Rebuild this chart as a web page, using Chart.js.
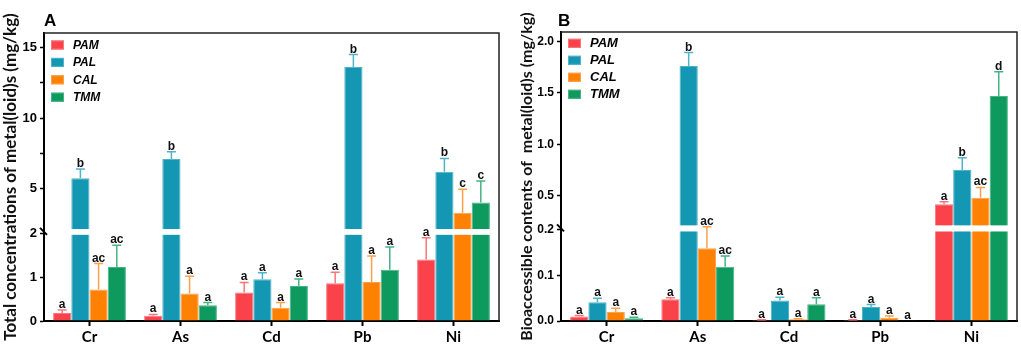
<!DOCTYPE html>
<html>
<head>
<meta charset="utf-8">
<script src="https://cdn.jsdelivr.net/npm/chart.js@4.4.1/dist/chart.umd.min.js"></script>
<style>
  body { margin: 0; background: #fff; }
  #wrap { position: relative; width: 1021px; height: 349px; }
  canvas { position: absolute; top: 0; }
</style>
</head>
<body>
<div id="wrap">
  <canvas id="chartA" width="510" height="349" style="left:0"></canvas>
  <canvas id="chartB" width="511" height="349" style="left:510px"></canvas>
</div>
<script>
// categories and groups
const metals = ['Cr', 'As', 'Cd', 'Pb', 'Ni'];
const groups = ['PAM', 'PAL', 'CAL', 'TMM'];

// A: total concentrations (mg/kg)
const totalPAM = [0.18, 0.12, 0.65, 0.86, 1.40];
const totalPAL = [5.71, 7.08, 0.95, 13.64, 6.18];
const totalCAL = [0.72, 0.63, 0.30, 0.89, 3.27];
const totalTMM = [1.23, 0.36, 0.80, 1.17, 4.00];
const totalErrPAM = [0.07, 0.03, 0.23, 0.25, 0.50];
const totalErrPAL = [0.66, 0.52, 0.15, 0.88, 0.95];
const totalErrCAL = [0.59, 0.39, 0.12, 0.59, 1.66];
const totalErrTMM = [0.50, 0.06, 0.16, 0.52, 1.52];
const totalSigPAM = ['a', 'a', 'a', 'a', 'a'];
const totalSigPAL = ['b', 'b', 'a', 'b', 'b'];
const totalSigCAL = ['ac', 'a', 'a', 'a', 'c'];
const totalSigTMM = ['ac', 'a', 'a', 'a', 'c'];
const totalTicks = [0, 1, 2, 5, 7.5, 10, 12.5, 15];
const totalTickLabels = ['0', '1', '2', '5', '', '10', '', '15'];

// B: bioaccessible contents (mg/kg)
const bioPAM = [0.010, 0.048, 0.002, 0.002, 0.419];
const bioPAL = [0.041, 1.762, 0.045, 0.031, 0.752];
const bioCAL = [0.020, 0.160, 0.004, 0.007, 0.483];
const bioTMM = [0.006, 0.119, 0.037, 0.0005, 1.471];
const bioErrPAM = [0.002, 0.003, 0.001, 0.001, 0.026];
const bioErrPAL = [0.009, 0.130, 0.007, 0.005, 0.120];
const bioErrCAL = [0.008, 0.042, 0.001, 0.004, 0.100];
const bioErrTMM = [0.002, 0.024, 0.014, 0.000, 0.236];
const bioSigPAM = ['a', 'a', 'a', 'a', 'a'];
const bioSigPAL = ['a', 'b', 'a', 'a', 'b'];
const bioSigCAL = ['a', 'ac', 'a', 'a', 'ac'];
const bioSigTMM = ['a', 'ac', 'a', 'a', 'd'];
const bioTicks = [0, 0.1, 0.2, 0.5, 1.0, 1.5, 2.0];
const bioTickLabels = ['0.0', '0.1', '0.2', '0.5', '1.0', '1.5', '2.0'];

const fills = ['#F9424A', '#1497B2', '#FF8104', '#0E9A5F'];
const edges = ['#FB767C', '#4FB4C9', '#FFA04A', '#46B383'];

// linear scale with a break: [min, at] on the lower part, [at, max] above
class BrokenScale extends Chart.LinearScale {
  segs() {
    const b = this.options.brk;
    const lb = this.bottom - (this.bottom - this.top) * b.lowFrac;
    return { lb: lb, ub: lb - b.gap, at: b.at };
  }
  getPixelForValue(v) {
    const s = this.segs();
    if (v <= s.at) return this.bottom - (v - this.min) / (s.at - this.min) * (this.bottom - s.lb);
    return s.ub - (v - s.at) / (this.max - s.at) * (s.ub - this.top);
  }
  getValueForPixel(p) {
    const s = this.segs();
    if (p >= s.lb) return this.min + (this.bottom - p) / (this.bottom - s.lb) * (s.at - this.min);
    return s.at + (s.ub - p) / (s.ub - this.top) * (this.max - s.at);
  }
}
BrokenScale.id = 'broken';
BrokenScale.defaults = Chart.LinearScale.defaults;
Chart.register(BrokenScale);

const errorBars = {
  id: 'errorBars',
  afterDatasetsDraw(chart) {
    const ctx = chart.ctx;
    const y = chart.scales.y;
    const s = y.segs();
    ctx.save();
    chart.data.datasets.forEach((ds, i) => {
      chart.getDatasetMeta(i).data.forEach((bar, j) => {
        const v = ds.data[j];
        if (v > s.at) {
          ctx.fillStyle = '#fff';
          ctx.fillRect(bar.x - bar.width / 2 - 1, s.ub - 1.5, bar.width + 2, s.lb - s.ub + 3);
        }
        const y0 = y.getPixelForValue(v);
        const y1 = y.getPixelForValue(v + ds.errors[j]);
        ctx.strokeStyle = ds.borderColor;
        ctx.lineWidth = 1.5;
        if (ds.errors[j] > 0) {
          ctx.beginPath();
          ctx.moveTo(bar.x, y0);
          ctx.lineTo(bar.x, y1);
          ctx.moveTo(bar.x - 4.5, y1);
          ctx.lineTo(bar.x + 4.5, y1);
          ctx.stroke();
        }
        ctx.fillStyle = '#111';
        ctx.font = 'bold 12px "Liberation Sans", Arial, sans-serif';
        ctx.textAlign = 'center';
        ctx.textBaseline = 'alphabetic';
        ctx.fillText(ds.sig[j], bar.x, Math.min(y0, y1) - 2);
      });
    });
    ctx.restore();
  }
};

const decor = {
  id: 'decor',
  afterDraw(chart, args, o) {
    const ctx = chart.ctx;
    const a = chart.chartArea;
    const s = chart.scales.y.segs();
    ctx.save();
    ctx.strokeStyle = '#222';
    ctx.lineWidth = 1.5;
    ctx.beginPath();
    ctx.moveTo(a.left, a.top);
    ctx.lineTo(a.right, a.top);
    ctx.lineTo(a.right, a.bottom);
    ctx.stroke();

    // axis break mark
    const my = (s.lb + s.ub) / 2;
    ctx.strokeStyle = '#000';
    ctx.lineWidth = 2;
    ctx.beginPath();
    ctx.moveTo(a.left - 4, my - 4);
    ctx.lineTo(a.left + 3, my + 3);
    ctx.stroke();

    ctx.fillStyle = '#000';
    ctx.font = 'bold 17px "Liberation Sans", Arial, sans-serif';
    ctx.textAlign = 'left';
    ctx.textBaseline = 'alphabetic';
    ctx.fillText(o.letter, o.letterX, 26);

    // legend inside the plot
    ctx.font = 'bold italic ' + o.legendSize + 'px "Liberation Sans", Arial, sans-serif';
    ctx.textBaseline = 'middle';
    chart.data.datasets.forEach((ds, i) => {
      const yy = a.top + o.legendTop + i * o.legendStep;
      ctx.fillStyle = ds.backgroundColor;
      ctx.fillRect(a.left + 7, yy - 4.5, 13, 9);
      ctx.strokeStyle = ds.borderColor;
      ctx.lineWidth = 1;
      ctx.strokeRect(a.left + 7.5, yy - 4, 12, 8);
      ctx.fillStyle = '#000';
      ctx.fillText(ds.label, a.left + 29, yy + 0.5);
    });
    ctx.restore();
  }
};

function makePanel(id, p) {
  const datasets = groups.map((g, i) => ({
    label: g,
    data: p.values[i],
    errors: p.errors[i],
    sig: p.sigs[i],
    backgroundColor: fills[i],
    borderColor: edges[i],
    borderWidth: 1,
    categoryPercentage: 0.8,
    barPercentage: 1.0
  }));
  return new Chart(document.getElementById(id), {
    type: 'bar',
    data: { labels: metals, datasets: datasets },
    plugins: [errorBars, decor],
    options: {
      responsive: false,
      animation: false,
      devicePixelRatio: 1,
      layout: { padding: { left: 0, top: p.top, right: p.right, bottom: 0 } },
      plugins: {
        legend: { display: false },
        tooltip: { enabled: false },
        decor: { letter: p.letter, letterX: p.letterX, legendSize: p.legendSize, legendTop: p.legendTop, legendStep: p.legendStep }
      },
      scales: {
        x: {
          grid: { display: true, drawOnChartArea: false, offset: false, tickLength: 5, tickColor: '#000', tickWidth: 2 },
          border: { color: '#000', width: 2 },
          ticks: { color: '#000', padding: 2, font: { family: 'Lato', weight: 'bold', size: 15 } },
          afterFit: (sc) => { sc.height = 28; }
        },
        y: {
          type: 'broken',
          min: 0,
          max: p.max,
          bounds: 'data',
          brk: p.brk,
          grid: { drawOnChartArea: false, tickLength: 4, tickColor: '#000', tickWidth: 1.5 },
          border: { color: '#000', width: 2 },
          ticks: {
            autoSkip: false,
            color: '#000',
            padding: 3,
            font: { family: '"Liberation Sans"', weight: 'bold', size: p.tickSize },
            callback: (v, i) => p.tickLabels[i]
          },
          afterBuildTicks: (sc) => { sc.ticks = p.ticks.map((v) => ({ value: v })); },
          afterFit: (sc) => { sc.width = p.left; },
          title: {
            display: true,
            text: p.title,
            color: '#111',
            padding: { top: p.titlePad, bottom: 0 },
            font: { family: 'Lato', weight: 'bold', size: p.titleSize }
          }
        }
      }
    }
  });
}

makePanel('chartA', {
  letter: 'A', letterX: 44,
  title: 'Total concentrations of metal(loid)s (mg/kg)',
  values: [totalPAM, totalPAL, totalCAL, totalTMM],
  errors: [totalErrPAM, totalErrPAL, totalErrCAL, totalErrTMM],
  sigs: [totalSigPAM, totalSigPAL, totalSigCAL, totalSigTMM],
  ticks: totalTicks, tickLabels: totalTickLabels,
  max: 16.05, brk: { at: 2, lowFrac: 0.3045, gap: 2.8 },
  left: 44, top: 33, right: 11,
  tickSize: 13, titleSize: 17, titlePad: 0,
  legendSize: 12, legendTop: 12, legendStep: 17.4
});

makePanel('chartB', {
  letter: 'B', letterX: 48,
  title: 'Bioaccessible contents of  metal(loid)s (mg/kg)',
  values: [bioPAM, bioPAL, bioCAL, bioTMM],
  errors: [bioErrPAM, bioErrPAL, bioErrCAL, bioErrTMM],
  sigs: [bioSigPAM, bioSigPAL, bioSigCAL, bioSigTMM],
  ticks: bioTicks, tickLabels: bioTickLabels,
  max: 2.092, brk: { at: 0.2, lowFrac: 0.315, gap: 3.1 },
  left: 51, top: 32, right: 4,
  tickSize: 12, titleSize: 16, titlePad: 7,
  legendSize: 13, legendTop: 11.3, legendStep: 17
});
</script>
</body>
</html>
